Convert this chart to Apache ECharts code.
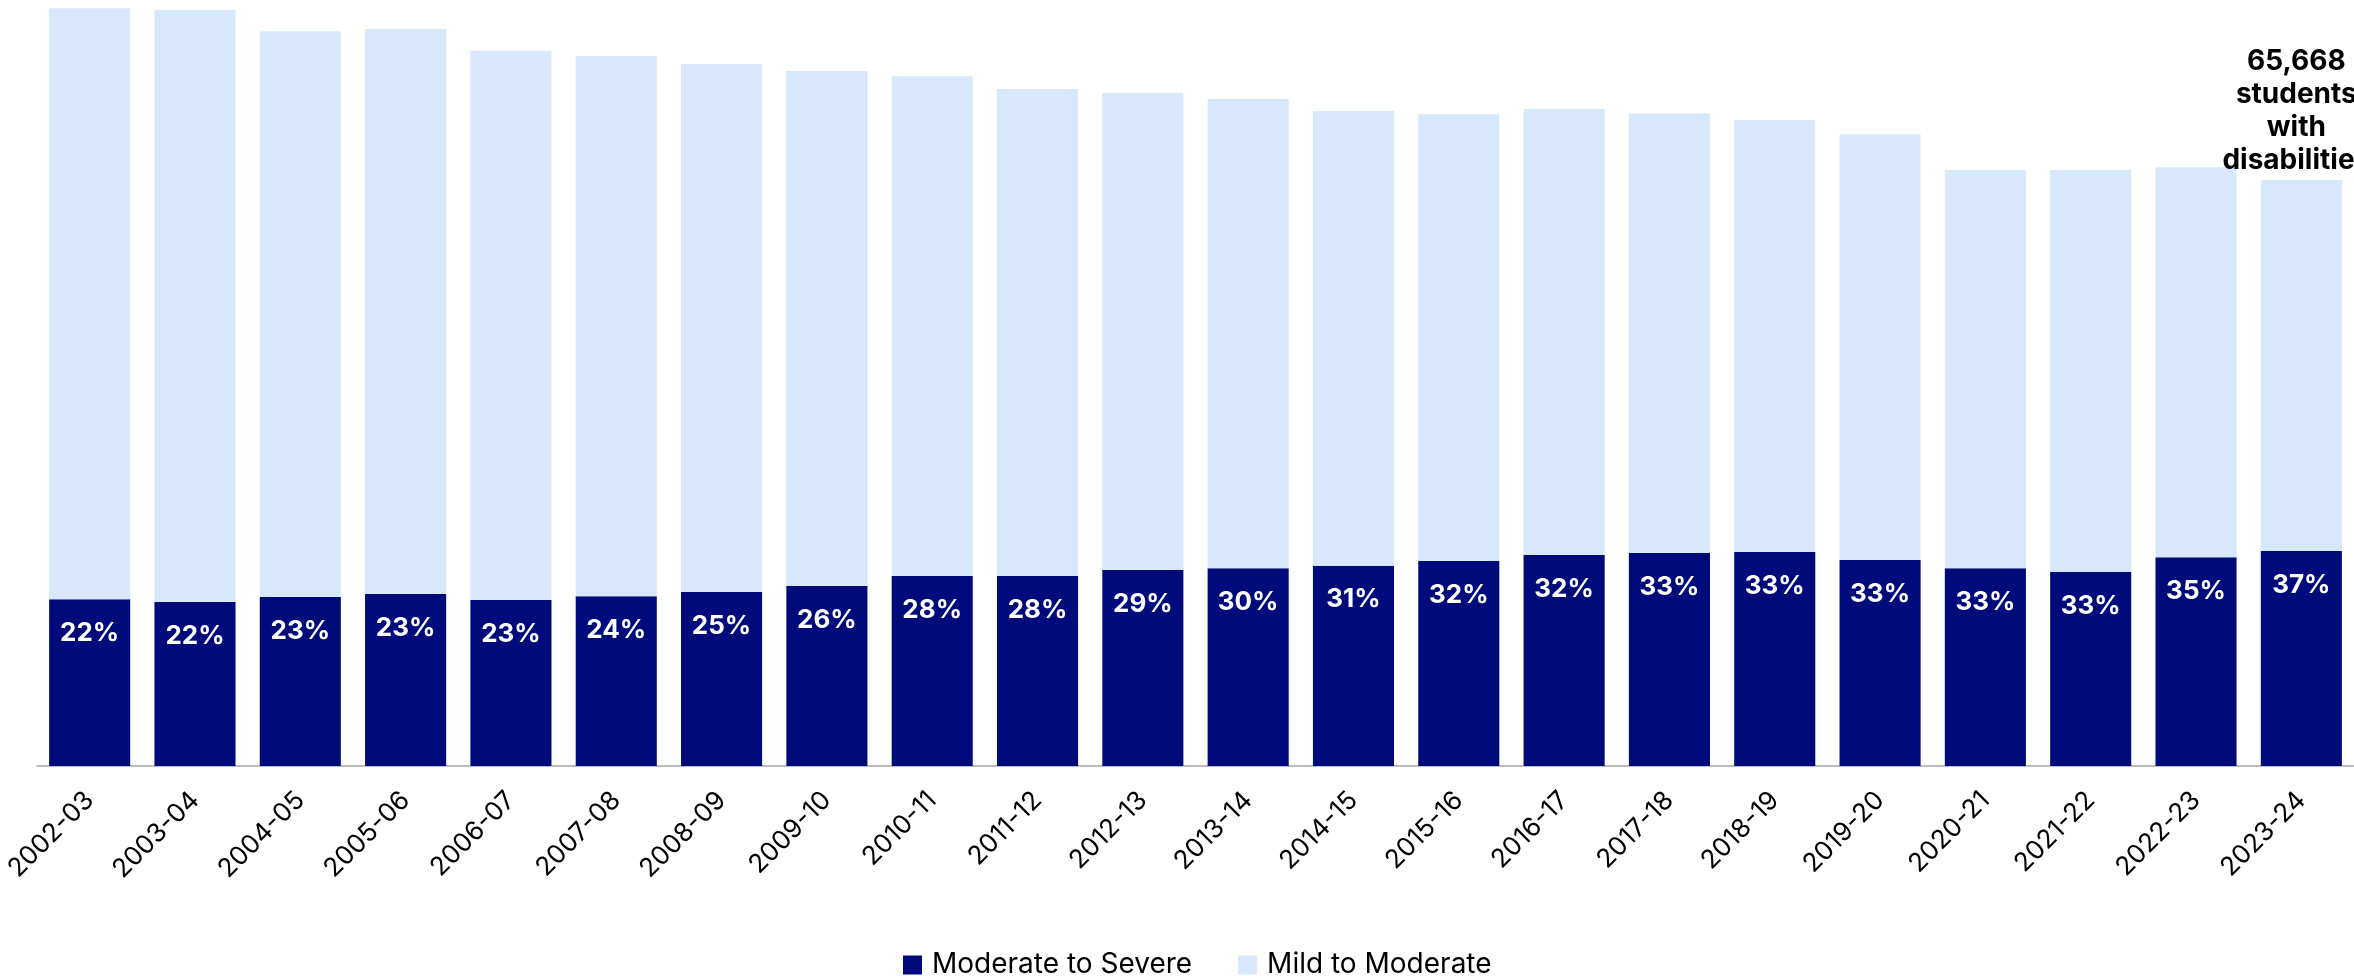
<!DOCTYPE html>
<html>
<head>
<meta charset="utf-8">
<script src="https://cdn.jsdelivr.net/npm/echarts@6/dist/echarts.min.js"></script>
<style>
html,body{margin:0;padding:0;background:#fff;}
#chart{width:2354px;height:976px;}
</style>
</head>
<body>
<div id="chart"></div>
<script>
const years = ["2002-03","2003-04","2004-05","2005-06","2006-07","2007-08","2008-09","2009-10","2010-11","2011-12","2012-13","2013-14","2014-15","2015-16","2016-17","2017-18","2018-19","2019-20","2020-21","2021-22","2022-23","2023-24"];
const moderateToSevere = [18680,18380,18940,19270,18600,19020,19500,20170,21290,21290,21960,22150,22450,22970,23640,23870,23980,23080,22150,21740,23390,24100];
const totalStudents = [84910,84720,82330,82590,80160,79560,78670,77880,77290,75870,75420,74740,73400,73030,73620,73140,72390,70790,66790,66790,67090,65668];
const mildToModerate = totalStudents.map((t, i) => t - moderateToSevere[i]);
const pctLabels = ["22%","22%","23%","23%","23%","24%","25%","26%","28%","28%","29%","30%","31%","32%","32%","33%","33%","33%","33%","33%","35%","37%"];
const annotationText = "65,668\nstudents\nwith\ndisabilities";

const chart = echarts.init(document.getElementById('chart'));
const lastIdx = years.length - 1;
chart.setOption({
  animation: false,
  textStyle: { fontFamily: 'Inter, "Noto Sans", sans-serif' },
  legend: {
    data: ["Moderate to Severe", "Mild to Moderate"],
    left: 898,
    top: 946,
    itemWidth: 19,
    itemHeight: 19,
    itemGap: 46,
    icon: 'rect',
    textStyle: { fontSize: 28, color: '#000', fontFamily: 'Inter, sans-serif', padding: [0, 0, 0, 5] }
  },
  grid: { left: 37, width: 2318, top: 0, bottom: 210, containLabel: false },
  xAxis: {
    type: 'category',
    data: years,
    axisLine: { show: true, lineStyle: { color: '#A6A6A6', width: 1.5 } },
    axisTick: { show: false },
    axisLabel: { rotate: 45, fontSize: 26, color: '#000', margin: 30, interval: 0, fontFamily: 'Inter, sans-serif' }
  },
  yAxis: { type: 'value', min: 0, max: 85840, show: false, splitLine: { show: false } },
  series: [
    {
      name: "Moderate to Severe",
      type: 'bar',
      stack: 'total',
      barCategoryGap: '23%',
      itemStyle: { color: '#000B7B' },
      label: {
        show: true,
        position: 'insideTop',
        distance: 21,
        color: '#fff',
        fontWeight: 'bold',
        fontSize: 26,
        fontFamily: 'Inter, sans-serif',
        formatter: p => pctLabels[p.dataIndex]
      },
      data: moderateToSevere
    },
    {
      name: "Mild to Moderate",
      type: 'bar',
      stack: 'total',
      barCategoryGap: '23%',
      itemStyle: { color: '#D7E8FD' },
      data: mildToModerate.map((v, i) => i === lastIdx ? {
        value: v,
        label: {
          show: true,
          position: 'top',
          distance: 3,
          offset: [-5, 0],
          color: '#000',
          fontWeight: 'bold',
          fontSize: 28,
          lineHeight: 33,
          align: 'center',
          fontFamily: 'Inter, sans-serif',
          formatter: annotationText
        }
      } : v)
    }
  ]
});
</script>
</body>
</html>
